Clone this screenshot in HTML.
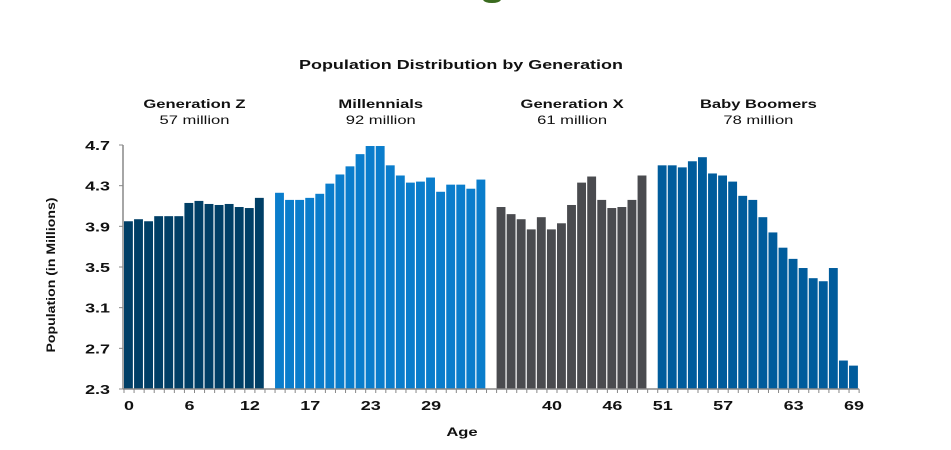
<!DOCTYPE html>
<html><head><meta charset="utf-8"><style>
html,body{margin:0;padding:0;background:#fff;width:951px;height:450px;overflow:hidden}
text{font-family:"Liberation Sans",Arial,sans-serif}
</style></head><body>
<svg id="chart" width="951" height="450" xmlns="http://www.w3.org/2000/svg">
<path d="M483 0 L501 0 Q499 3 492 3 Q485 3 483 0Z" fill="#3a6b1f"/>
<text class="st" x="461" y="69" text-anchor="middle" font-size="13" font-weight="bold" fill="#111">Population Distribution by Generation</text>
<g id="groupLabels"></g>
<g id="yaxis"></g>
<g id="bars"></g>
<g id="xaxis"></g>
<text transform="translate(55,275) rotate(-90)" text-anchor="middle" font-size="12" font-weight="bold" fill="#111" textLength="155" lengthAdjust="spacingAndGlyphs">Population (in Millions)</text>
<text class="st" x="462" y="436" text-anchor="middle" font-size="12" font-weight="bold" fill="#111">Age</text>
</svg>
<script>
const genNames = ["Generation Z","Millennials","Generation X","Baby Boomers"];
const genTotals = ["57 million","92 million","61 million","78 million"];
const genStartSlots = [0,15,37,53];
const genZ = [3.95,3.97,3.95,4.00,4.00,4.00,4.13,4.15,4.12,4.11,4.12,4.09,4.08,4.18];
const millennials = [4.23,4.16,4.16,4.18,4.22,4.32,4.41,4.49,4.61,4.69,4.69,4.50,4.40,4.33,4.34,4.38,4.24,4.31,4.31,4.27,4.36];
const genX = [4.09,4.02,3.97,3.87,3.99,3.87,3.93,4.11,4.33,4.39,4.16,4.08,4.09,4.16,4.40];
const boomers = [4.50,4.50,4.48,4.54,4.58,4.42,4.40,4.34,4.20,4.16,3.99,3.84,3.69,3.58,3.49,3.39,3.36,3.49,2.58,2.53];
const yTicks = [4.7,4.3,3.9,3.5,3.1,2.7,2.3];
const xTickLabels = ["0","6","12","17","23","29","40","46","51","57","63","69"];
const xTickSlots = [0,6,12,18,24,30,42,48,53,59,66,72];
const colors = ["#003f66","#0a7dcc","#4a4b4f","#005c9c"];
const series = [genZ,millennials,genX,boomers];

const NS="http://www.w3.org/2000/svg";
const x0=124, pitch=10.07, yTop=145, yBot=389, vMin=2.3, vMax=4.7;
const xs = s => x0 + s*pitch;
const ys = v => yBot - (v-vMin)/(vMax-vMin)*(yBot-yTop);
function mk(tag, attrs, parent){const e=document.createElementNS(NS,tag);for(const k in attrs)e.setAttribute(k,attrs[k]);parent.appendChild(e);return e;}

const gl=document.getElementById('groupLabels');
genNames.forEach((n,i)=>{
  const cx = xs(genStartSlots[i] + series[i].length/2);
  const t=mk('text',{x:cx,y:108,'text-anchor':'middle','font-size':12,'font-weight':'bold',fill:'#111',class:'st'},gl);
  t.textContent=n;
  
  
  const s=mk('text',{x:cx,y:124,'text-anchor':'middle','font-size':12,fill:'#111',class:'st'},gl);
  s.textContent=genTotals[i];
  
  
});

const ya=document.getElementById('yaxis');
const al=mk('line',{x1:x0-1,y1:yTop,x2:x0-1,y2:yBot,stroke:'#888','stroke-width':1.5},ya);


yTicks.forEach(v=>{
  const y=ys(v);
  mk('line',{x1:x0-5,y1:y,x2:x0-1,y2:y,stroke:'#888'},ya);
  const t=mk('text',{x:110,y:y+5,'text-anchor':'end','font-size':13,'font-weight':'bold',fill:'#111',class:'st'},ya);
  t.textContent=v.toFixed(1);
  
  
});

const bg=document.getElementById('bars');
series.forEach((arr,gi)=>{
  arr.forEach((v,i)=>{
    const s=genStartSlots[gi]+i;
    const r=mk('rect',{x:xs(s),y:ys(v),width:pitch-1.2,height:yBot-ys(v),fill:colors[gi]},bg);
    
    
  });
});

const xa=document.getElementById('xaxis');
const last=genStartSlots[3]+boomers.length;
const bl=mk('line',{x1:x0-1,y1:yBot,x2:xs(last),y2:yBot,stroke:'#888','stroke-width':1.5},xa);


for(let s=0;s<=last;s++){mk('line',{x1:xs(s),y1:yBot,x2:xs(s),y2:yBot+4,stroke:'#888'},xa);}
xTickLabels.forEach((l,i)=>{
  const t=mk('text',{x:xs(xTickSlots[i]+0.5),y:yBot+21,'text-anchor':'middle','font-size':13,'font-weight':'bold',fill:'#111',class:'st'},xa);
  t.textContent=l;
  
  
});

document.querySelectorAll('text.st').forEach(t=>{
  const w=t.getComputedTextLength();
  t.setAttribute('textLength',(w*1.38).toFixed(1));
  t.setAttribute('lengthAdjust','spacingAndGlyphs');
});
</script>
</body></html>
